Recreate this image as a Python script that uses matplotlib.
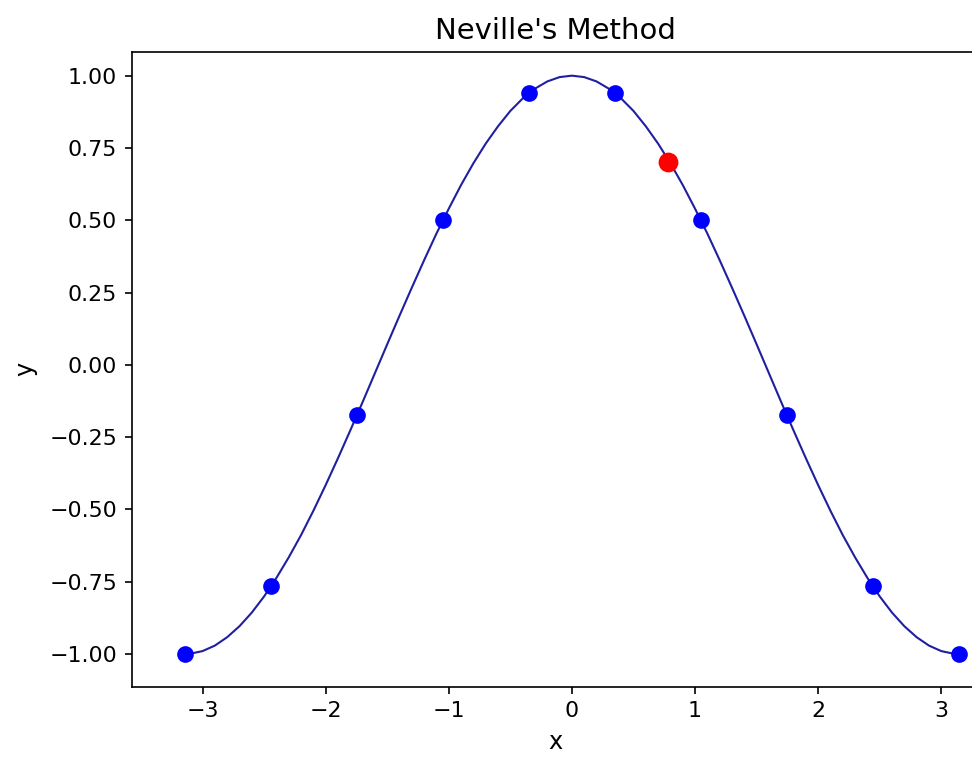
import matplotlib
matplotlib.use("Agg")
import matplotlib.pyplot as plt

# interpolation nodes
node_x = [-3.1416, -2.4435, -1.7453, -1.0472, -0.3491, 0.3491, 1.0472, 1.7453, 2.4435, 3.1416]
node_y = [-1.000, -0.766, -0.174, 0.500, 0.940, 0.940, 0.500, -0.174, -0.766, -1.000]

# interpolated curve, right half (curve is symmetric)
half_x = [0.0, 0.1, 0.2, 0.3, 0.4, 0.5, 0.6, 0.7, 0.8, 0.9, 1.0, 1.1, 1.2, 1.3, 1.4,
          1.5, 1.6, 1.7, 1.8, 1.9, 2.0, 2.1, 2.2, 2.3, 2.4, 2.5, 2.6, 2.7, 2.8,
          2.9, 3.0, 3.1, 3.1416]
half_y = [1.000, 0.995, 0.980, 0.955, 0.921, 0.878, 0.825, 0.765, 0.697, 0.622,
          0.540, 0.454, 0.362, 0.267, 0.170, 0.071, -0.029, -0.129, -0.227, -0.323,
          -0.416, -0.505, -0.589, -0.666, -0.737, -0.801, -0.857, -0.904, -0.942,
          -0.971, -0.990, -0.999, -1.000]
curve_x = [-v for v in reversed(half_x)] + half_x[1:]
curve_y = list(reversed(half_y)) + half_y[1:]

# evaluated point
eval_x = 0.78
eval_y = 0.70

fig = plt.figure(figsize=(6.48, 5.047), dpi=150)
# axes runs a little past the right edge, as in the reference
ax = fig.add_axes([0.1355, 0.0929, 0.8727, 0.8388])

ax.plot(curve_x, curve_y, color='#1f1fa0', linewidth=1)
ax.plot(node_x, node_y, 'o', color='blue', markersize=7)
ax.plot([eval_x], [eval_y], 'o', color='red', markersize=8.5)

ax.set_xlim(-3.575, 3.314)
ax.set_ylim(-1.113, 1.083)
ax.tick_params(labelsize=10.6)

ax.set_title("Neville's Method", fontsize=14)
ax.set_xlabel("x", fontsize=11.5)
ax.set_ylabel("y", fontsize=11.5, labelpad=6)

fig.savefig("out.png", dpi=150)
